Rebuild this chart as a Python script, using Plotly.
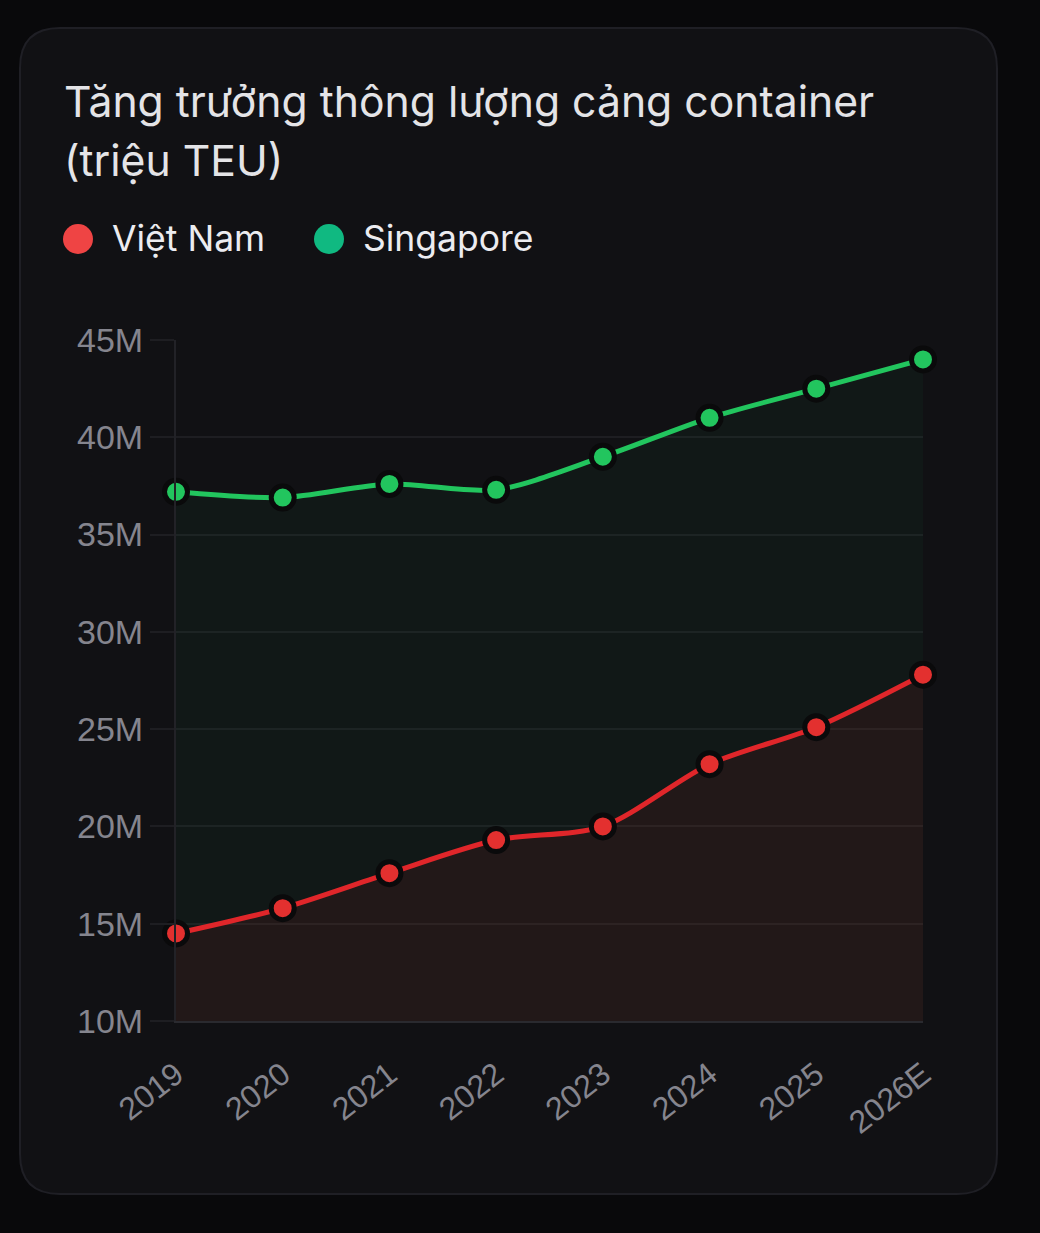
import plotly.graph_objects as go

years = ["2019", "2020", "2021", "2022", "2023", "2024", "2025", "2026E"]
vietnam = [14.5, 15.8, 17.6, 19.3, 20.0, 23.2, 25.1, 27.8]
singapore = [37.2, 36.9, 37.6, 37.3, 39.0, 41.0, 42.5, 44.0]
y_ticks = [10, 15, 20, 25, 30, 35, 40, 45]
y_tick_labels = ["10M", "15M", "20M", "25M", "30M", "35M", "40M", "45M"]

W, H = 1040, 1233
L, R, T, B = 176, 117, 340, 212
PW, PH = W - L - R, H - T - B


def px(x):
    return (x - L) / PW


def py(y):
    return (H - B - y) / PH


fig = go.Figure()

fig.add_trace(go.Scatter(
    x=years, y=singapore, name="Singapore", mode="lines+markers",
    line=dict(color="#22c55e", width=5, shape="spline", smoothing=0.8),
    marker=dict(size=23, color="#22c55e", line=dict(color="#0a0a0b", width=5)),
    fill="tozeroy", fillcolor="rgba(34,197,94,0.045)", cliponaxis=False,
    showlegend=False,
))
fig.add_trace(go.Scatter(
    x=years, y=vietnam, name="Việt Nam", mode="lines+markers",
    line=dict(color="#e0262a", width=5, shape="spline", smoothing=0.8),
    marker=dict(size=23, color="#e3302f", line=dict(color="#0a0a0b", width=5)),
    fill="tozeroy", fillcolor="rgba(220,38,38,0.085)", cliponaxis=False,
    showlegend=False,
))

# card background
x0, x1, y0, y1, r = 20, 997, 28, 1194, 40
path = (
    f"M {px(x0 + r)} {py(y0)} L {px(x1 - r)} {py(y0)} "
    f"Q {px(x1)} {py(y0)} {px(x1)} {py(y0 + r)} "
    f"L {px(x1)} {py(y1 - r)} Q {px(x1)} {py(y1)} {px(x1 - r)} {py(y1)} "
    f"L {px(x0 + r)} {py(y1)} Q {px(x0)} {py(y1)} {px(x0)} {py(y1 - r)} "
    f"L {px(x0)} {py(y0 + r)} Q {px(x0)} {py(y0)} {px(x0 + r)} {py(y0)} Z"
)
shapes = [dict(type="path", xref="paper", yref="paper", path=path,
               fillcolor="#111114", line=dict(color="#1f1f25", width=2), layer="below")]

# legend dots
for cx, col in [(78, "#ef4444"), (329, "#10b981")]:
    shapes.append(dict(type="circle", xref="paper", yref="paper",
                       x0=px(cx - 15), x1=px(cx + 15), y0=py(254), y1=py(224),
                       fillcolor=col, line=dict(width=0), layer="above"))

annotations = [
    dict(text="Tăng trưởng thông lượng cảng container", x=px(62), y=py(102),
         xref="paper", yref="paper", xanchor="left", yanchor="middle", showarrow=False,
         font=dict(family="Inter", size=42.7, color="#e4e4e7")),
    dict(text="(triệu TEU)", x=px(62), y=py(161),
         xref="paper", yref="paper", xanchor="left", yanchor="middle", showarrow=False,
         font=dict(family="Inter", size=42.7, color="#e4e4e7")),
    dict(text="Việt Nam", x=px(110), y=py(239),
         xref="paper", yref="paper", xanchor="left", yanchor="middle", showarrow=False,
         font=dict(family="Inter", size=35.5, color="#ececf0")),
    dict(text="Singapore", x=px(361), y=py(239),
         xref="paper", yref="paper", xanchor="left", yanchor="middle", showarrow=False,
         font=dict(family="Inter", size=35.5, color="#ececf0")),
]

fig.update_layout(
    width=W, height=H,
    margin=dict(l=L, r=R, t=T, b=B, pad=0),
    paper_bgcolor="#09090b",
    plot_bgcolor="rgba(0,0,0,0)",
    shapes=shapes,
    annotations=annotations,
    showlegend=False,
)

fig.update_xaxes(
    type="category", range=[0, len(years) - 1],
    showgrid=False, zeroline=False,
    showline=True, linecolor="#2a2a2f", linewidth=2,
    ticks="outside", ticklen=20, tickcolor="rgba(0,0,0,0)",
    tickangle=-38,
    tickfont=dict(family="Liberation Sans", size=32, color="#85858e"),
)
fig.update_yaxes(
    range=[10, 45], tickvals=y_ticks, ticktext=y_tick_labels,
    showgrid=True, gridcolor="#1e1e22", gridwidth=2, zeroline=False,
    showline=True, linecolor="#222227", linewidth=2,
    ticks="outside", ticklen=24, tickcolor="#1e1e22", tickwidth=2,
    tickfont=dict(family="Liberation Sans", size=34, color="#85858e"),
)

fig.write_html("out.html", config={"displayModeBar": False},
               post_script="document.body.style.margin='0';document.body.style.background='#09090b';")
